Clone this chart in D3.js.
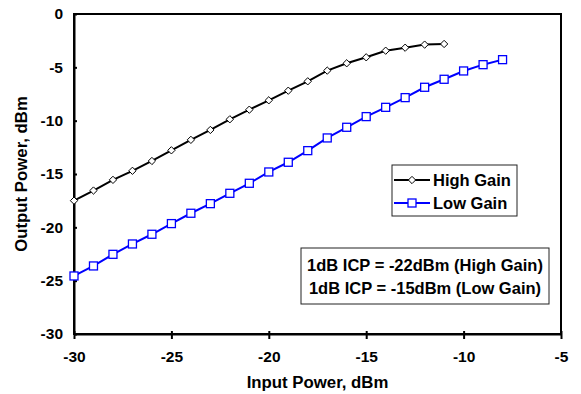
<!DOCTYPE html>
<head>
  <meta charset="utf-8">
  <style>
    body { margin: 0; background: #fff; }
    text { font-family: "Liberation Sans", Arial, sans-serif; font-weight: bold; fill: #000; }
  </style>
</head>
<body>
  <div id="viz"></div>
  <script src="https://d3js.org/d3.v7.min.js"></script>
  <script>
    // data
    const inputHigh = d3.range(-30, -10);   // -30 .. -11
    const outputHigh = [-17.5, -16.55, -15.55, -14.7, -13.78, -12.78, -11.8, -10.87, -9.87, -8.97,
      -8.09, -7.19, -6.31, -5.31, -4.62, -4.06, -3.44, -3.16, -2.87, -2.81];
    const inputLow = d3.range(-30, -7);     // -30 .. -8
    const outputLow = [-24.56, -23.62, -22.53, -21.56, -20.65, -19.65, -18.68, -17.78, -16.81, -15.87,
      -14.81, -13.9, -12.81, -11.62, -10.62, -9.62, -8.75, -7.84, -6.87, -6.12, -5.34, -4.75, -4.28];
    const xTicks = [-30, -25, -20, -15, -10, -5];
    const yTicks = [0, -5, -10, -15, -20, -25, -30];
    const seriesNames = ['High Gain', 'Low Gain'];
    const noteLines = ['1dB ICP = -22dBm (High Gain)', '1dB ICP = -15dBm (Low Gain)'];

    const W = 581, H = 394;
    const margin = { top: 14, right: 20, bottom: 60, left: 74 };
    const width = 561 - margin.left, height = 334 - margin.top;

    const svg = d3.select('#viz').append('svg')
      .attr('width', W).attr('height', H);
    const g = svg.append('g')
      .attr('transform', `translate(${margin.left},${margin.top})`);

    const x = d3.scaleLinear().domain([-30, -5]).range([0, width]);
    const y = d3.scaleLinear().domain([-30, 0]).range([height, 0]);

    // frame
    g.append('rect')
      .attr('width', width).attr('height', height)
      .attr('fill', 'none').attr('stroke', '#000').attr('stroke-width', 2);

    // axes (plain hyphen minus like the original)
    const fmt = d => String(d);
    const xAxis = g.append('g')
      .attr('transform', `translate(0,${height})`)
      .call(d3.axisBottom(x).tickValues(xTicks).tickFormat(fmt).tickSizeInner(5).tickSizeOuter(0).tickPadding(12));
    const yAxis = g.append('g')
      .call(d3.axisLeft(y).tickValues(yTicks).tickFormat(fmt).tickSizeInner(6).tickSizeOuter(0).tickPadding(5));
    [xAxis, yAxis].forEach(a => {
      a.select('.domain').attr('stroke-width', 2);
      a.selectAll('.tick line').attr('stroke-width', 2);
      a.selectAll('.tick text').style('font-size', '15.5px').style('font-family', '"Liberation Sans", Arial, sans-serif');
    });
    xAxis.selectAll('.tick line').attr('y1', -3);
    yAxis.selectAll('.tick line').attr('x2', 3);

    // axis titles
    svg.append('text')
      .attr('x', margin.left + width / 2).attr('y', 388)
      .attr('text-anchor', 'middle').style('font-size', '16.8px')
      .text('Input Power, dBm');
    svg.append('text')
      .attr('transform', `translate(27,${margin.top + height / 2}) rotate(-90)`)
      .attr('text-anchor', 'middle').style('font-size', '16.8px')
      .text('Output Power, dBm');

    const high = inputHigh.map((d, i) => ({ x: d, y: outputHigh[i] }));
    const low = inputLow.map((d, i) => ({ x: d, y: outputLow[i] }));
    const line = d3.line().x(d => x(d.x)).y(d => y(d.y));

    // low gain
    g.append('path').datum(low)
      .attr('d', line).attr('fill', 'none').attr('stroke', '#0000ff').attr('stroke-width', 2);
    g.selectAll('.sq').data(low).join('rect')
      .attr('class', 'sq')
      .attr('x', d => x(d.x) - 4).attr('y', d => y(d.y) - 4)
      .attr('width', 8).attr('height', 8)
      .attr('fill', '#fff').attr('stroke', '#0000ff').attr('stroke-width', 1.3);

    // high gain
    g.append('path').datum(high)
      .attr('d', line).attr('fill', 'none').attr('stroke', '#000').attr('stroke-width', 2);
    const diamond = d3.symbol().type(d3.symbolDiamond2).size(34);
    g.selectAll('.dm').data(high).join('path')
      .attr('class', 'dm')
      .attr('transform', d => `translate(${x(d.x)},${y(d.y)})`)
      .attr('d', diamond)
      .attr('fill', '#fff').attr('stroke', '#000').attr('stroke-width', 1);

    // series legend
    const leg = svg.append('g').attr('transform', 'translate(392,165)');
    leg.append('rect').attr('width', 125).attr('height', 51)
      .attr('fill', '#fff').attr('stroke', '#222').attr('stroke-width', 1);
    seriesNames.forEach((name, i) => {
      const cy = 15 + i * 23;
      const col = i === 0 ? '#000' : '#0000ff';
      leg.append('line').attr('x1', 2).attr('x2', 38).attr('y1', cy).attr('y2', cy)
        .attr('stroke', col).attr('stroke-width', 2);
      if (i === 0) {
        leg.append('path').attr('transform', `translate(20,${cy})`).attr('d', diamond)
          .attr('fill', '#fff').attr('stroke', '#000');
      } else {
        leg.append('rect').attr('x', 16).attr('y', cy - 4).attr('width', 8).attr('height', 8)
          .attr('fill', '#fff').attr('stroke', col).attr('stroke-width', 1.3);
      }
      leg.append('text').attr('x', 41).attr('y', cy + 6)
        .style('font-size', '16.5px').text(name);
    });

    // note box
    const note = svg.append('g').attr('transform', 'translate(301,248)');
    note.append('rect').attr('width', 248).attr('height', 56)
      .attr('fill', '#fff').attr('stroke', '#222').attr('stroke-width', 1);
    noteLines.forEach((t, i) => {
      note.append('text').attr('x', 124).attr('y', 23 + i * 23)
        .attr('text-anchor', 'middle').style('font-size', '16.5px').text(t);
    });
  </script>
</body>
</html>
